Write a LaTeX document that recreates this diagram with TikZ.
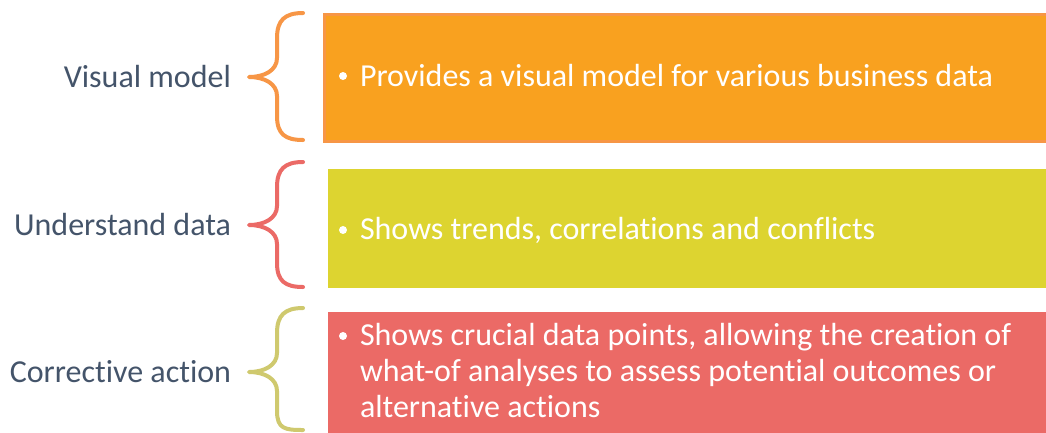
\documentclass[tikz,border=0pt]{standalone}
\usepackage{fontspec}
\setmainfont[Ligatures=NoCommon]{Carlito}
\usepackage{tikz}

\definecolor{orangefill}{HTML}{F9A11F}
\definecolor{orangeline}{HTML}{F79646}
\definecolor{yellowfill}{HTML}{DDD430}
\definecolor{redfill}{HTML}{EB6A66}
\definecolor{khakiline}{HTML}{CFC96E}
\definecolor{labelgray}{HTML}{44546A}

\begin{document}
\begin{tikzpicture}[x=1pt, y=-1pt,
  every node/.style={inner sep=0pt, outer sep=0pt},
  label/.style={anchor=base east, text=labelgray, font=\fontsize{32}{38}\selectfont},
  item/.style={anchor=base west, text=white, font=\fontsize{32}{38}\selectfont},
  dot/.style={circle, fill=white, minimum size=8pt},
  brace/.style={line width=4pt, line cap=round, line join=round}]
\clip (0,0) rectangle (1046,432);
\fill[white] (0,0) rectangle (1046,432);

% boxes
\draw[fill=orangefill, draw=orangeline, line width=3pt] (324.5,14.5) rectangle (1060,141);
\fill[yellowfill] (328,169) rectangle (1060,288);
\fill[redfill] (328,312) rectangle (1060,440);

% braces
\draw[brace, orangeline] (303,13) .. controls (285,13) and (277,20) .. (277,38) -- (277,58)
  .. controls (277,70) and (265,77) .. (249,77) .. controls (265,77) and (277,84) .. (277,96)
  -- (277,116) .. controls (277,134) and (285,140) .. (303,140);
\draw[brace, redfill] (303,162) .. controls (285,162) and (277,169) .. (277,187) -- (277,206)
  .. controls (277,218) and (265,225) .. (249,225) .. controls (265,225) and (277,232) .. (277,244)
  -- (277,263) .. controls (277,281) and (285,287) .. (303,287);
\draw[brace, khakiline] (303,308) .. controls (285,308) and (277,315) .. (277,333) -- (277,353)
  .. controls (277,365) and (265,372) .. (249,372) .. controls (265,372) and (277,379) .. (277,391)
  -- (277,411) .. controls (277,429) and (285,430) .. (303,430);

% labels
\node[label] (visual) at (231,87) {Visual model};
\node[label] (understand) at (231,235) {Understand data};
\node[label] (corrective) at (231,382) {Corrective action};

% bullets and texts
\node[dot] (d1) at (343,76) {};
\node[item] (t1) at (360,86) {Provides a visual model for various business data};
\node[dot] (d2) at (343,230) {};
\node[item] (t2) at (360,239) {Shows trends, correlations and conflicts};
\node[dot] (d3) at (343,336) {};
\node[item] (t3a) at (360,345) {Shows crucial data points, allowing the creation of};
\node[item] (t3b) at (360,381) {what-of analyses to assess potential outcomes or};
\node[item] (t3c) at (360,417) {alternative actions};
\end{tikzpicture}
\end{document}
